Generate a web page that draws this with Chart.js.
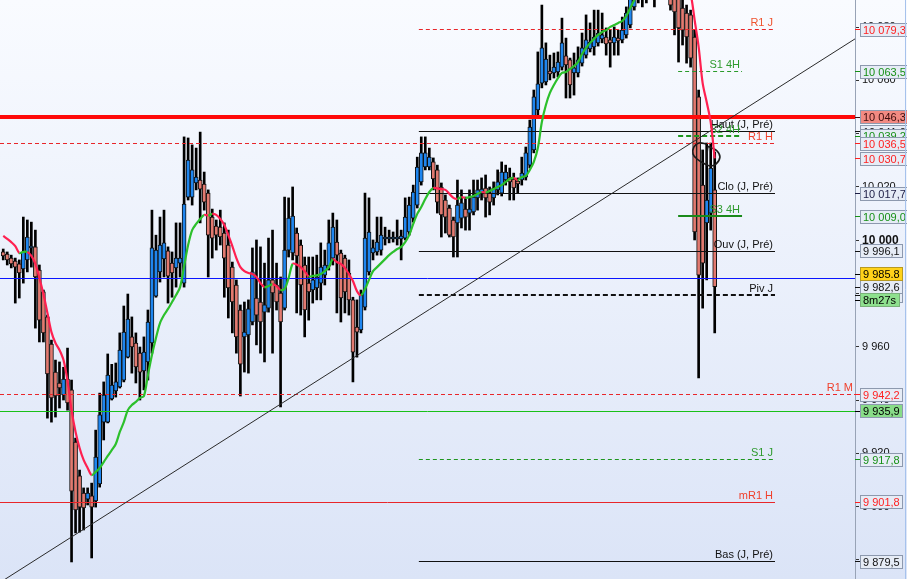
<!DOCTYPE html>
<html>
<head>
<meta charset="utf-8">
<script src="https://cdn.jsdelivr.net/npm/chart.js@4.4.1/dist/chart.umd.min.js"></script>
<style>
  html, body { margin: 0; padding: 0; background: #fff; }
  #wrap { width: 907px; height: 579px; position: relative; }
</style>
</head>
<body>
<div id="wrap"><canvas id="chart"></canvas></div>
<script>
// candles (bar index 0 = leftmost)
const opens = [
  9995.6, 9994.8, 9993.3, 9992.2, 9991.1, 9989.2, 9992.6, 9997.1, 9997.5, 9988.8,
  9980.6, 9971.2, 9961.0, 9950.5, 9946.4, 9941.9, 9947.9, 9943.8, 9924.2, 9911.5,
  9905.1, 9902.8, 9904.0, 9902.1, 9908.5, 9931.7, 9931.7, 9940.4, 9943.4, 9944.9,
  9947.5, 9956.1, 9963.7, 9961.4, 9957.6, 9950.9, 9954.3, 9961.4, 9979.0, 9988.1,
  9993.0, 9996.0, 9991.4, 9989.6, 9991.4, 9983.9, 10016.2, 10016.2, 10021.5, 10022.6,
  10021.1, 10017.7, 10008.7, 10005.3, 10004.9, 10002.7, 9998.2, 9989.9, 9983.2, 9973.8,
  9963.7, 9964.4, 9969.3, 9978.3, 9976.8, 9973.0, 9974.5, 9985.1, 9983.2, 9980.2,
  9974.5, 9996.3, 9995.2, 10002.7, 9998.2, 9990.7, 9983.9, 9981.3, 9982.1, 9983.9,
  9986.9, 9990.3, 9993.3, 9999.3, 9995.2, 9993.3, 9987.7, 9977.6, 9967.4, 9966.3,
  9974.9, 9988.1, 9995.2, 9995.6, 9996.3, 10000.5, 10000.5, 10000.5, 10000.5, 10000.5,
  10000.8, 10003.1, 10008.3, 10013.2, 10021.9, 10027.5, 10027.5, 10029.4, 10026.4, 10020.0,
  10015.1, 10012.1, 10007.6, 10006.5, 10008.3, 10011.7, 10010.2, 10010.6, 10015.9, 10017.7,
  10019.6, 10017.7, 10015.9, 10018.9, 10017.7, 10022.6, 10023.7, 10023.0, 10022.2, 10022.6,
  10023.7, 10028.2, 10033.9, 10048.9, 10059.0, 10059.4, 10063.5, 10062.8, 10063.2, 10065.0,
  10069.2, 10067.7, 10062.8, 10062.8, 10066.5, 10069.5, 10071.8, 10072.6, 10074.1, 10075.6,
  10076.3, 10075.2, 10074.1, 10075.9, 10075.2, 10077.1, 10080.8, 10087.6, 10092.1, 10097.0,
  10094.7, 10094.0, 10095.8, 10093.2, 10097.0, 10099.2, 10095.8, 10092.1, 10094.0, 10087.2,
  10085.3, 10084.6, 10076.3, 10053.8, 10020.7, 10006.5, 10010.2, 10018.9
];
const highs = [
  9996.7, 9995.6, 9994.4, 9993.3, 9992.6, 10008.7, 10007.6, 10006.8, 10003.8, 9990.7,
  9981.3, 9971.9, 9962.5, 9955.0, 9954.3, 9952.3, 9959.5, 9947.5, 9925.7, 9913.7,
  9907.0, 9907.0, 9908.8, 9928.7, 9942.6, 9946.8, 9957.3, 9953.4, 9953.9, 9965.2,
  9975.3, 9979.8, 9971.2, 9965.2, 9959.9, 9963.7, 9973.8, 10011.3, 10001.9, 10008.7,
  10011.3, 9997.5, 9995.6, 10006.5, 10006.5, 10038.8, 10038.4, 10035.8, 10034.6, 10040.6,
  10025.6, 10018.9, 10011.7, 10007.6, 10011.3, 10006.5, 10003.8, 9991.8, 9985.1, 9975.7,
  9976.8, 9977.6, 9997.1, 10000.1, 9997.5, 9991.4, 10000.8, 10003.8, 9991.4, 9986.2,
  10016.2, 10015.9, 10020.0, 10004.6, 10000.1, 9993.7, 9993.7, 9993.7, 9994.4, 9999.0,
  9996.3, 10007.6, 10010.2, 10007.6, 9996.3, 9994.4, 9992.6, 9978.6, 9977.6, 9981.3,
  10017.7, 10015.9, 10000.1, 10008.7, 10008.7, 10004.9, 10003.8, 10003.1, 10007.6, 10003.8,
  10015.9, 10016.2, 10020.7, 10031.2, 10038.8, 10038.8, 10034.6, 10030.9, 10028.2, 10021.5,
  10017.0, 10013.2, 10008.7, 10022.6, 10018.9, 10016.2, 10018.9, 10022.6, 10022.6, 10023.4,
  10024.5, 10020.0, 10021.9, 10026.4, 10029.4, 10028.2, 10027.1, 10025.2, 10023.4, 10031.2,
  10035.0, 10045.1, 10056.4, 10070.7, 10088.3, 10074.1, 10069.5, 10070.3, 10070.7, 10083.4,
  10075.9, 10068.4, 10070.3, 10072.6, 10077.8, 10084.6, 10081.6, 10086.4, 10086.4, 10085.3,
  10079.7, 10078.9, 10080.1, 10078.9, 10083.8, 10087.6, 10094.7, 10097.7, 10100.7, 10099.6,
  10097.7, 10099.6, 10098.5, 10100.0, 10101.5, 10100.7, 10097.7, 10094.7, 10095.8, 10092.1,
  10088.3, 10086.4, 10078.9, 10056.4, 10033.9, 10036.5, 10036.5, 10033.1
];
const lows = [
  9992.6, 9990.7, 9989.6, 9976.4, 9978.3, 9983.9, 9988.1, 9989.9, 9967.0, 9961.8,
  9961.8, 9933.2, 9931.7, 9933.6, 9937.0, 9940.0, 9936.2, 9879.2, 9890.1, 9890.4,
  9891.2, 9900.6, 9880.7, 9899.8, 9907.3, 9925.0, 9931.4, 9940.0, 9941.1, 9944.5,
  9946.8, 9955.8, 9950.1, 9946.4, 9940.0, 9943.8, 9947.5, 9957.6, 9978.6, 9984.3,
  9986.2, 9976.4, 9978.6, 9982.4, 9986.2, 9982.4, 10015.1, 10013.2, 10018.9, 10006.5,
  10011.3, 9986.2, 9993.3, 9996.3, 9998.2, 9978.6, 9970.8, 9965.2, 9957.6, 9941.5,
  9950.5, 9950.1, 9968.2, 9960.7, 9957.6, 9954.3, 9973.0, 9957.6, 9973.8, 9937.4,
  9973.8, 9993.7, 9992.6, 9972.7, 9971.9, 9963.7, 9970.0, 9976.4, 9977.6, 9977.6,
  9983.2, 9988.8, 9990.7, 9972.7, 9969.3, 9972.7, 9971.9, 9946.8, 9956.1, 9965.2,
  9973.8, 9986.9, 9992.6, 9994.4, 9994.4, 9998.2, 9999.0, 9999.3, 9998.2, 9992.6,
  10000.1, 10001.9, 10006.8, 10012.1, 10020.7, 10026.4, 10026.4, 10018.9, 10010.2, 10001.2,
  10002.7, 10001.2, 9993.7, 9993.7, 10004.6, 10003.8, 10003.8, 10009.5, 10011.3, 10015.1,
  10008.7, 10009.5, 10013.2, 10017.0, 10016.6, 10020.7, 10015.1, 10015.1, 10017.7, 10020.7,
  10022.6, 10027.1, 10032.8, 10047.0, 10057.2, 10058.3, 10060.2, 10060.9, 10061.3, 10063.9,
  10053.4, 10053.4, 10054.5, 10061.3, 10065.4, 10068.4, 10070.7, 10069.5, 10072.9, 10074.1,
  10069.5, 10065.0, 10069.5, 10069.5, 10074.1, 10075.9, 10079.7, 10086.4, 10089.1, 10087.6,
  10089.1, 10090.9, 10087.6, 10091.3, 10094.0, 10092.1, 10086.4, 10077.1, 10066.9, 10073.3,
  10066.5, 10065.0, 10000.1, 9948.3, 9974.5, 9985.1, 10003.8, 9965.2
];
const closes = [
  9994.1, 9992.6, 9991.1, 9989.9, 9987.7, 9995.6, 10001.2, 9997.8, 9986.2, 9970.0,
  9965.2, 9949.8, 9940.8, 9941.5, 9944.5, 9947.9, 9938.9, 9905.8, 9898.7, 9899.8,
  9899.5, 9905.1, 9899.8, 9918.6, 9934.4, 9941.9, 9949.4, 9945.6, 9946.8, 9958.8,
  9965.5, 9970.4, 9959.9, 9952.4, 9950.5, 9958.0, 9969.3, 9997.1, 9996.3, 9998.2,
  9999.0, 9986.5, 9987.7, 9993.3, 9993.3, 10013.6, 10030.1, 10026.4, 10023.7, 10019.2,
  10014.3, 10001.9, 10000.8, 10001.9, 10001.2, 9993.3, 9982.1, 9976.8, 9963.7, 9953.5,
  9965.5, 9974.2, 9988.1, 9971.9, 9969.3, 9975.7, 9985.1, 9980.2, 9976.8, 9969.3,
  9996.3, 10008.3, 10009.1, 9994.1, 9983.2, 9973.8, 9980.6, 9985.1, 9986.2, 9989.9,
  9990.7, 9999.0, 10004.9, 9994.4, 9978.3, 9980.6, 9977.6, 9958.0, 9965.5, 9979.4,
  10000.8, 10003.1, 9997.1, 9999.3, 10001.9, 10001.2, 10001.2, 10001.2, 10001.2, 10001.6,
  10008.7, 10013.2, 10018.1, 10027.5, 10032.8, 10032.8, 10031.2, 10023.0, 10014.3, 10009.5,
  10008.7, 10001.9, 10001.2, 10013.2, 10014.0, 10008.7, 10011.7, 10016.2, 10018.9, 10019.2,
  10015.9, 10014.3, 10019.6, 10021.9, 10025.6, 10025.6, 10021.9, 10019.6, 10021.1, 10025.2,
  10032.8, 10042.5, 10053.8, 10058.7, 10072.2, 10068.0, 10062.4, 10065.0, 10066.9, 10074.1,
  10065.8, 10058.3, 10064.7, 10067.7, 10072.2, 10075.2, 10074.4, 10076.3, 10077.8, 10077.1,
  10073.7, 10074.1, 10076.3, 10074.8, 10078.9, 10085.3, 10092.1, 10095.8, 10097.7, 10094.0,
  10093.2, 10097.0, 10092.1, 10097.7, 10099.6, 10094.7, 10088.3, 10085.7, 10079.7, 10078.9,
  10076.3, 10068.4, 10003.1, 9986.9, 9991.4, 10015.1, 10027.1, 9982.6
];
// moving average, one value per bar
const maValues = [
  10001.6, 10000.5, 9999.3, 9997.8, 9995.2, 9995.6, 9995.6, 9994.1, 9991.1, 9985.8,
  9979.8, 9972.7, 9965.5, 9961.4, 9958.8, 9955.0, 9947.1, 9936.2, 9928.0, 9922.0,
  9917.5, 9914.5, 9911.8, 9913.0, 9914.5, 9916.7, 9919.0, 9921.2, 9923.5, 9928.0,
  9931.7, 9936.2, 9938.1, 9939.3, 9940.8, 9941.5, 9949.4, 9956.9, 9963.3, 9968.9,
  9971.9, 9974.2, 9976.8, 9979.4, 9982.4, 9990.3, 9998.2, 10003.8, 10006.1, 10008.0,
  10009.5, 10009.3, 10009.9, 10009.5, 10008.0, 10005.7, 10001.9, 9997.8, 9993.3, 9989.9,
  9988.4, 9987.7, 9987.3, 9986.2, 9983.9, 9982.4, 9982.8, 9983.5, 9982.8, 9981.3,
  9981.7, 9985.8, 9991.1, 9990.9, 9989.9, 9988.4, 9986.4, 9986.6, 9986.8, 9987.3,
  9988.4, 9989.9, 9992.9, 9991.8, 9991.1, 9989.6, 9987.3, 9984.7, 9980.9, 9979.4,
  9981.7, 9985.1, 9988.4, 9989.9, 9991.4, 9992.9, 9994.4, 9995.6, 9996.7, 9997.5,
  9999.3, 10001.9, 10006.1, 10009.9, 10012.5, 10015.5, 10018.1, 10019.6, 10019.5, 10019.2,
  10018.9, 10017.4, 10015.9, 10015.5, 10016.2, 10015.9, 10016.2, 10016.6, 10017.4, 10018.1,
  10017.9, 10018.5, 10019.2, 10020.0, 10020.7, 10021.9, 10023.0, 10023.4, 10022.6, 10023.7,
  10024.1, 10026.4, 10029.4, 10034.6, 10044.4, 10050.8, 10055.3, 10058.3, 10060.9, 10062.8,
  10063.2, 10064.3, 10065.4, 10066.9, 10069.9, 10072.2, 10074.1, 10075.6, 10077.1, 10078.2,
  10078.9, 10080.1, 10080.8, 10081.6, 10082.3, 10084.2, 10087.2, 10090.2, 10092.8, 10095.1,
  10097.0, 10098.5, 10099.6, 10100.3, 10100.7, 10100.6, 10100.3, 10099.6, 10098.5, 10097.0,
  10095.1, 10092.5, 10082.7, 10072.6, 10059.0, 10051.9, 10044.4, 10030.7
];

// price axis
const yMin = 9872.8;
const yMax = 10090.2;
const yTicks = [9880, 9900, 9920, 9940, 9960, 9980, 10000, 10020, 10040, 10060, 10080];
// bar-index range shown (last bars leave empty space on the right)
const xMin = -0.8;
const xMax = 211.9;

// hand-drawn trend line and the loop drawn round the last bars
const trendX = [-0.8, 211.9];
const trendY = [9871.5, 10075.6];
const loopX = [175.1, 173.1, 171.8, 171.6, 172.6, 174.1, 175.8, 177.3, 178.3, 177.6, 176.3, 175.3, 175.1];
const loopY = [10036.1, 10036.5, 10035.0, 10032.4, 10030.5, 10029.0, 10027.9, 10028.6, 10031.2, 10033.5, 10034.6, 10035.0, 10027.9];

// horizontal levels (from / to are bar indexes)
const levelNames = ['R1 J', 'S1 4H', '', 'Haut (J, Pré)', 'S2 4H', 'R1 H', 'Clo (J, Pré)', 'S3 4H',
  'Ouv (J, Pré)', '', 'Piv J', 'R1 M', '', 'S1 J', 'mR1 H', 'Bas (J, Pré)'];
const levelValues = [10079.3, 10063.5, 10046.3, 10041.0, 10039.2, 10036.5, 10017.7, 10009.0,
  9996.1, 9985.8, 9979.4, 9942.2, 9935.9, 9917.8, 9901.8, 9879.5];
const levelFrom = [103.4, 167.9, -0.8, 103.4, 167.9, -0.8, 103.4, 167.9,
  103.4, -0.8, 103.4, -0.8, -0.8, 103.4, -0.8, 103.4];
const levelTo = [192, 183.8, 211.9, 192, 183.8, 192, 192, 183.8,
  192, 211.9, 192, 211.9, 211.9, 192, 192, 192];
const currentPrice = 9985.8;
const countdownText = '8m27s';

// ---- styles ----
const UP = '#1f86ef';
const DOWN = '#e27a70';
const FONT = '"Liberation Sans", Arial, sans-serif';
const RED_L = '#e8262a', RED_T = '#f0402c', RED_B = '#ff1f1f';
const GRN_T = '#2e9a2e', GRN_B = '#169016';
const levelStyle = [
  { line: RED_L, width: 1, dash: [4, 3], text: '#ef5430', box: RED_B },
  { line: '#2a9a2a', width: 1, dash: [4, 3], text: GRN_T, box: GRN_B },
  { line: '#ff0a0a', width: 4, text: '', box: '#3c0c0c', bg: '#f28a82' },
  { line: '#111', width: 1, text: '#111', box: '#111' },
  { line: '#1e961e', width: 2, dash: [5, 3], text: GRN_T, box: GRN_B },
  { line: RED_L, width: 1, dash: [4, 3], text: RED_T, box: RED_B },
  { line: '#111', width: 1, text: '#111', box: '#1c1c44' },
  { line: '#1a8a1a', width: 2, text: GRN_T, box: GRN_B },
  { line: '#111', width: 1, text: '#111', box: '#111' },
  { line: '#0a14ff', width: 1, text: '', box: null },
  { line: '#111', width: 2, dash: [5, 3], text: '#111', box: '#111' },
  { line: RED_L, width: 1, dash: [4, 3], text: RED_T, box: RED_B },
  { line: '#19c019', width: 1, text: '', box: '#000', bg: '#88dc88' },
  { line: '#1e961e', width: 1, dash: [4, 3], text: GRN_T, box: GRN_B },
  { line: RED_L, width: 1, text: RED_T, box: RED_B },
  { line: '#111', width: 1, text: '#111', box: '#111' }
];

function groupThousands(s) { return s.replace(/\B(?=(\d{3})+(?!\d))/g, ' '); }
function fmtPrice(v, sep) {
  const parts = v.toFixed(1).split('.');
  return groupThousands(parts[0]) + (sep || ',') + parts[1];
}

const idx = opens.map((_, i) => i);
const wickData = idx.map(i => ({ x: i, y: [lows[i], highs[i]] }));
const bodyData = idx.map(i => ({ x: i, y: [Math.min(opens[i], closes[i]), Math.max(opens[i], closes[i])] }));
const bodyColors = idx.map(i => closes[i] >= opens[i] ? UP : DOWN);
const maData = idx.map(i => ({ x: i, y: maValues[i] }));
const BODY_INDEX = 3;

const backdrop = {
  id: 'backdrop',
  beforeDraw(chart) {
    const { ctx, width, height } = chart;
    const g = ctx.createLinearGradient(0, 0, 0, height);
    g.addColorStop(0, '#f9fbff');
    g.addColorStop(1, '#dbe4f7');
    ctx.save();
    ctx.fillStyle = g;
    ctx.fillRect(0, 0, width, height);
    ctx.restore();
  }
};

// level lines + their names, drawn just above the candles
const levels = {
  id: 'levels',
  afterDatasetDraw(chart, args) {
    if (args.index !== BODY_INDEX) return;
    const { ctx, chartArea } = chart;
    const xs = chart.scales.x, ys = chart.scales.y;
    ctx.save();
    ctx.beginPath();
    ctx.rect(chartArea.left, chartArea.top, chartArea.width, chartArea.height);
    ctx.clip();
    levelValues.forEach((v, i) => {
      const st = levelStyle[i];
      let y = ys.getPixelForValue(v);
      y = st.width % 2 ? Math.round(y) + 0.5 : Math.round(y);
      const x0 = xs.getPixelForValue(levelFrom[i]);
      const x1 = xs.getPixelForValue(levelTo[i]);
      ctx.strokeStyle = st.line;
      ctx.lineWidth = st.width;
      ctx.setLineDash(st.dash || []);
      ctx.beginPath();
      ctx.moveTo(x0, y);
      ctx.lineTo(x1, y);
      ctx.stroke();
    });
    ctx.setLineDash([]);
    ctx.font = '11px ' + FONT;
    ctx.textAlign = 'right';
    ctx.textBaseline = 'alphabetic';
    levelValues.forEach((v, i) => {
      if (!levelNames[i]) return;
      const y = Math.round(ys.getPixelForValue(v));
      ctx.fillStyle = levelStyle[i].text;
      ctx.fillText(levelNames[i], xs.getPixelForValue(levelTo[i]) - 2, y - 3);
    });
    ctx.restore();
  }
};

// price boxes on the right axis
const axisBoxes = {
  id: 'axisBoxes',
  afterDraw(chart) {
    const { ctx, chartArea, width } = chart;
    const ys = chart.scales.y;
    const bx = chartArea.right + 5;
    const h = 13;
    ctx.save();
    ctx.font = '11px ' + FONT;
    function box(y, text, fg, bg, border) {
      const w = Math.ceil(ctx.measureText(text).width) + 5;
      const top = Math.round(y - h / 2) + 0.5;
      ctx.strokeStyle = fg;
      ctx.lineWidth = 1;
      ctx.beginPath();
      ctx.moveTo(chartArea.right, Math.round(y) + 0.5);
      ctx.lineTo(bx, Math.round(y) + 0.5);
      ctx.stroke();
      ctx.fillStyle = bg || '#e6ecf6';
      ctx.fillRect(bx + 0.5, top, w, h);
      ctx.strokeStyle = border || '#8d99ae';
      ctx.strokeRect(bx + 0.5, top, w, h);
      ctx.fillStyle = fg;
      ctx.textAlign = 'left';
      ctx.textBaseline = 'middle';
      ctx.fillText(text, bx + 3, top + h / 2 + 0.5);
    }
    levelValues.forEach((v, i) => {
      const st = levelStyle[i];
      if (!st.box) return;
      box(ys.getPixelForValue(v), fmtPrice(v), st.box, st.bg);
    });
    const maLast = maValues[maValues.length - 1];
    box(ys.getPixelForValue(maLast), fmtPrice(maLast), RED_B);
    const lastClose = closes[closes.length - 1];
    const yClose = ys.getPixelForValue(lastClose);
    box(yClose, fmtPrice(lastClose), '#111');
    const yCur = Math.min(ys.getPixelForValue(currentPrice), yClose - h);
    box(yCur, fmtPrice(currentPrice, '.'), '#000', '#ffd21a', '#b89a20');
    box(yClose + h, countdownText, '#000', '#8ee08e', '#7ab07a');
    // right frame edge
    ctx.strokeStyle = '#a6c2ec';
    ctx.beginPath();
    ctx.moveTo(width - 1.5, 0);
    ctx.lineTo(width - 1.5, chart.height);
    ctx.stroke();
    ctx.restore();
  }
};

new Chart(document.getElementById('chart'), {
  type: 'bar',
  data: {
    datasets: [
      {
        type: 'line', label: 'MA', data: maData, order: 0,
        borderWidth: 2.2, pointRadius: 0, tension: 0.3, fill: false,
        borderColor: '#ff2050',
        segment: { borderColor: c => c.p1.parsed.y >= c.p0.parsed.y ? '#2cc02c' : '#ff2050' }
      },
      {
        type: 'line', label: 'trend', order: 1,
        data: trendX.map((x, i) => ({ x, y: trendY[i] })),
        borderColor: '#2a2a2a', borderWidth: 1, pointRadius: 0, fill: false
      },
      {
        type: 'line', label: 'loop', order: 1,
        data: loopX.map((x, i) => ({ x, y: loopY[i] })),
        borderColor: '#1a1a1a', borderWidth: 1.6, pointRadius: 0, fill: false, tension: 0.35
      },
      {
        label: 'bodies', data: bodyData, order: 3, grouped: false,
        backgroundColor: bodyColors, borderColor: '#111', borderWidth: 1,
        borderSkipped: false, barThickness: 4
      },
      {
        label: 'wicks', data: wickData, order: 4, grouped: false,
        backgroundColor: '#000', borderWidth: 0, barThickness: 2
      }
    ]
  },
  options: {
    responsive: true,
    maintainAspectRatio: false,
    animation: false,
    events: [],
    layout: { padding: 0 },
    plugins: { legend: { display: false }, tooltip: { enabled: false } },
    scales: {
      x: {
        type: 'linear', min: xMin, max: xMax, offset: false, display: false,
        grid: { display: false }
      },
      y: {
        position: 'right', min: yMin, max: yMax, beginAtZero: false,
        afterBuildTicks: s => { s.ticks = yTicks.map(v => ({ value: v })); },
        afterFit: s => { s.width = 52; s.paddingTop = 0; s.paddingBottom = 0; },
        grid: { drawOnChartArea: false, drawTicks: true, tickLength: 4, color: '#333' },
        border: { display: true, color: '#98a3b6' },
        ticks: {
          padding: 3,
          color: '#111',
          font: c => (c.tick && c.tick.value === 10000)
            ? { family: FONT, size: 12, weight: 'bold' }
            : { family: FONT, size: 11 },
          callback: v => groupThousands(String(v))
        }
      }
    }
  },
  plugins: [backdrop, levels, axisBoxes]
});
</script>
</body>
</html>
